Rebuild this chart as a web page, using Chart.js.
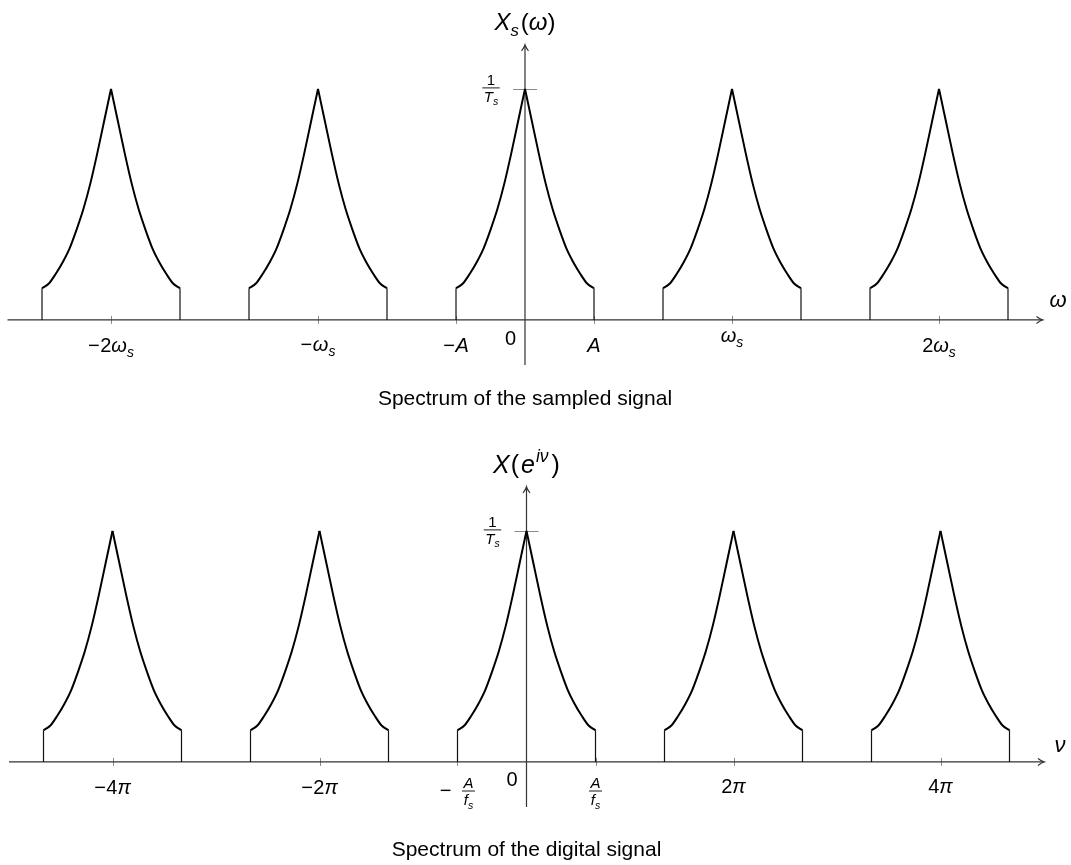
<!DOCTYPE html>
<html>
<head>
<meta charset="utf-8">
<script src="https://cdn.jsdelivr.net/npm/chart.js@4.4.0/dist/chart.umd.min.js"></script>
<style>
  body { margin: 0; background: #fff; }
  .box { position: relative; width: 1071px; }
</style>
</head>
<body>
<div class="box"><canvas id="sampledChart" width="1071" height="442"></canvas></div>
<div class="box"><canvas id="digitalChart" width="1071" height="423"></canvas></div>
<script>
// centres of the spectrum copies (in periods: ωs on top, 2π below)
const copyCentres = [-2, -1, 0, 1, 2];
// band edge A, as a fraction of one period
const bandEdge = 1 / 3;
// one half of a copy: offset from the centre (fraction of A) and height (fraction of 1/Ts)
const shapeOffsets = [0, 0.1, 0.2, 0.3, 0.4, 0.5, 0.6, 0.7, 0.8, 0.9, 1.0];
const shapeHeights = [1, 0.86, 0.72, 0.59, 0.48, 0.39, 0.31, 0.25, 0.20, 0.158, 0.137];

// tick positions on the horizontal axis
const tickValues = [-2, -1, -1 / 3, 1 / 3, 1, 2];

// tick labels, as runs of text (it = italic, sub = subscript)
const sampledTickLabels = [
    [{ t: '\u2212', gap: 0.5 }, { t: '2' }, { t: 'ω', it: true }, { t: 's', it: true, sub: true }],
    [{ t: '\u2212', gap: 0.5 }, { t: 'ω', it: true }, { t: 's', it: true, sub: true }],
    [{ t: '\u2212', gap: 0.5 }, { t: 'A', it: true }],
    [{ t: 'A', it: true }],
    [{ t: 'ω', it: true }, { t: 's', it: true, sub: true }],
    [{ t: '2' }, { t: 'ω', it: true }, { t: 's', it: true, sub: true }]
];
const digitalTickLabels = [
    [{ t: '\u2212', gap: 0.5 }, { t: '4' }, { t: 'π', it: true }],
    [{ t: '\u2212', gap: 0.5 }, { t: '2' }, { t: 'π', it: true }],
    'minusFrac',
    'frac',
    [{ t: '2' }, { t: 'π', it: true }],
    [{ t: '4' }, { t: 'π', it: true }]
];

const FONT = '"Liberation Sans", Arial, sans-serif';

function setFont(ctx, run, size) {
    const s = (run.sub || run.sup) ? size * 0.7 : size;
    ctx.font = (run.it ? 'italic ' : '') + s + 'px ' + FONT;
}

function runsWidth(ctx, runs, size) {
    let w = 0;
    runs.forEach(r => { setFont(ctx, r, size); w += ctx.measureText(r.t).width + (r.gap || 0); });
    return w;
}

// y is the baseline
function drawRuns(ctx, runs, x, y, size, align) {
    const w = runsWidth(ctx, runs, size);
    let px = align === 'center' ? x - w / 2 : (align === 'right' ? x - w : x);
    ctx.textAlign = 'left';
    ctx.textBaseline = 'alphabetic';
    runs.forEach(r => {
        setFont(ctx, r, size);
        const dy = r.sub ? size * 0.25 : (r.sup ? -size * 0.45 : 0);
        ctx.fillText(r.t, px, y + dy);
        px += ctx.measureText(r.t).width + (r.gap || 0);
    });
}

// fraction centred on cx, bar at barY
function drawFrac(ctx, num, den, cx, barY, size) {
    const wn = runsWidth(ctx, num, size);
    const wd = runsWidth(ctx, den, size);
    const w = Math.max(wn, wd) + 3;
    drawRuns(ctx, num, cx, barY - 3, size, 'center');
    drawRuns(ctx, den, cx, barY + 3 + size * 0.72, size, 'center');
    ctx.save();
    ctx.strokeStyle = '#000';
    ctx.lineWidth = 0.9;
    ctx.beginPath();
    ctx.moveTo(cx - w / 2, barY);
    ctx.lineTo(cx + w / 2, barY);
    ctx.stroke();
    ctx.restore();
}

function arrowHead(ctx, x, y, dir) {
    // TikZ-like "->" tip
    ctx.beginPath();
    if (dir === 'right') {
        ctx.moveTo(x - 6, y - 3.5);
        ctx.quadraticCurveTo(x - 2, y - 0.5, x, y);
        ctx.quadraticCurveTo(x - 2, y + 0.5, x - 6, y + 3.5);
    } else {
        ctx.moveTo(x - 3.5, y + 6);
        ctx.quadraticCurveTo(x - 0.5, y + 2, x, y);
        ctx.quadraticCurveTo(x + 0.5, y + 2, x + 3.5, y + 6);
    }
    ctx.stroke();
}

// one dataset per half copy, so the peak stays a sharp cusp
function buildHalves() {
    const sets = [];
    copyCentres.forEach(c => {
        [-1, 1].forEach(side => {
            const pts = shapeOffsets.map((o, i) => ({ x: c + side * o * bandEdge, y: shapeHeights[i] }));
            if (side < 0) pts.reverse();
            sets.push({
                data: pts,
                showLine: true,
                borderColor: '#000',
                borderWidth: 2,
                pointRadius: 0,
                cubicInterpolationMode: 'monotone'
            });
        });
    });
    return sets;
}

function buildEdges() {
    const pts = [];
    const h = shapeHeights[shapeHeights.length - 1];
    copyCentres.forEach(c => {
        [c - bandEdge, c + bandEdge].forEach(e => {
            pts.push({ x: e, y: 0 }, { x: e, y: h }, { x: e, y: null });
        });
    });
    return pts;
}

function makeChart(canvasId, opts) {
    const ctx = document.getElementById(canvasId).getContext('2d');

    const decor = {
        id: 'decor_' + canvasId,
        beforeDatasetsDraw(chart) {
            const c = chart.ctx;
            const xs = chart.scales.x, ys = chart.scales.y;
            const y0 = ys.getPixelForValue(0);
            const x0 = xs.getPixelForValue(0);
            const yTop = ys.getPixelForValue(1);
            c.save();
            // tick marks
            c.strokeStyle = '#8a8a8a';
            c.lineWidth = 1;
            tickValues.forEach(v => {
                const px = Math.round(xs.getPixelForValue(v)) + 0.5;
                c.beginPath();
                c.moveTo(px, y0 - 4);
                c.lineTo(px, y0 + 4);
                c.stroke();
            });
            c.beginPath();
            c.moveTo(x0 - 12, Math.round(yTop) + 0.5);
            c.lineTo(x0 + 12, Math.round(yTop) + 0.5);
            c.stroke();
            // axes
            c.strokeStyle = '#333';
            c.lineWidth = 1.2;
            c.beginPath();
            c.moveTo(chart.chartArea.left, y0);
            c.lineTo(chart.chartArea.right, y0);
            c.moveTo(x0, chart.chartArea.bottom);
            c.lineTo(x0, chart.chartArea.top);
            c.stroke();
            arrowHead(c, chart.chartArea.right, y0, 'right');
            arrowHead(c, x0, chart.chartArea.top, 'up');
            c.restore();
        },
        afterDatasetsDraw(chart) {
            const c = chart.ctx;
            const xs = chart.scales.x, ys = chart.scales.y;
            const x0 = xs.getPixelForValue(0);
            const yTop = ys.getPixelForValue(1);
            c.save();
            c.fillStyle = '#000';
            // tick labels
            opts.tickLabels.forEach((lab, i) => {
                const px = xs.getPixelForValue(tickValues[i]);
                const base = opts.tickBaselines[i];
                const num = [{ t: 'A', it: true }];
                const den = [{ t: 'f', it: true }, { t: 's', it: true, sub: true }];
                if (lab === 'minusFrac') {
                    drawRuns(c, [{ t: '\u2212' }], px - 6, base + 6, 20, 'right');
                    drawFrac(c, num, den, px + 11, base, 15);
                } else if (lab === 'frac') {
                    drawFrac(c, num, den, px, base, 15);
                } else {
                    drawRuns(c, lab, px, base, 20, 'center');
                }
            });
            // origin label
            drawRuns(c, [{ t: '0' }], x0 - 9, opts.zeroBaseline, 20, 'right');
            // 1/Ts on the vertical axis
            drawFrac(c, [{ t: '1' }], [{ t: 'T', it: true }, { t: 's', it: true, sub: true }], x0 - 34, yTop - 1, 15);
            // axis names
            drawRuns(c, opts.yName, x0, opts.yNameBaseline, opts.yNameSize, 'center');
            drawRuns(c, opts.xName, opts.xNamePos[0], opts.xNamePos[1], 22, 'center');
            // caption
            c.font = '21px ' + FONT;
            c.textAlign = 'center';
            c.textBaseline = 'alphabetic';
            c.fillText(opts.caption, x0, opts.captionBaseline);
            c.restore();
        }
    };

    const datasets = buildHalves();
    datasets.push({
        data: buildEdges(),
        showLine: true,
        borderColor: '#111',
        borderWidth: 1.2,
        pointRadius: 0,
        spanGaps: false
    });

    return new Chart(ctx, {
        type: 'scatter',
        data: { datasets: datasets },
        options: {
            responsive: false,
            animation: false,
            layout: {
                padding: { left: opts.padLeft, right: 1071 - opts.padRight, top: 45, bottom: opts.height - 365 }
            },
            plugins: {
                legend: { display: false },
                tooltip: { enabled: false }
            },
            scales: {
                x: { type: 'linear', min: -2.5, max: 2.5, display: false },
                y: { type: 'linear', min: -0.195, max: 1.19, display: false }
            }
        },
        plugins: [decor]
    });
}

makeChart('sampledChart', {
    height: 442,
    padLeft: 7.5,
    padRight: 1042.5,
    tickLabels: sampledTickLabels,
    tickBaselines: [352, 351, 352, 352, 342, 352],
    zeroBaseline: 345,
    yName: [{ t: 'X', it: true }, { t: 's', it: true, sub: true, gap: 2 }, { t: '(' }, { t: 'ω', it: true }, { t: ')' }],
    yNameSize: 24,
    yNameBaseline: 30,
    xName: [{ t: 'ω', it: true }],
    xNamePos: [1058, 307],
    caption: 'Spectrum of the sampled signal',
    captionBaseline: 405
});

makeChart('digitalChart', {
    height: 423,
    padLeft: 9,
    padRight: 1044,
    tickLabels: digitalTickLabels,
    tickBaselines: [352, 352, 349, 349, 351, 351],
    zeroBaseline: 344,
    yName: [{ t: 'X', it: true, gap: 1 }, { t: '(', gap: 2 }, { t: 'e', it: true, gap: 1 }, { t: 'iν', it: true, sup: true, gap: 3 }, { t: ')' }],
    yNameSize: 25,
    yNameBaseline: 31,
    xName: [{ t: 'ν', it: true }],
    xNamePos: [1060, 310],
    caption: 'Spectrum of the digital signal',
    captionBaseline: 414
});
</script>
</body>
</html>
